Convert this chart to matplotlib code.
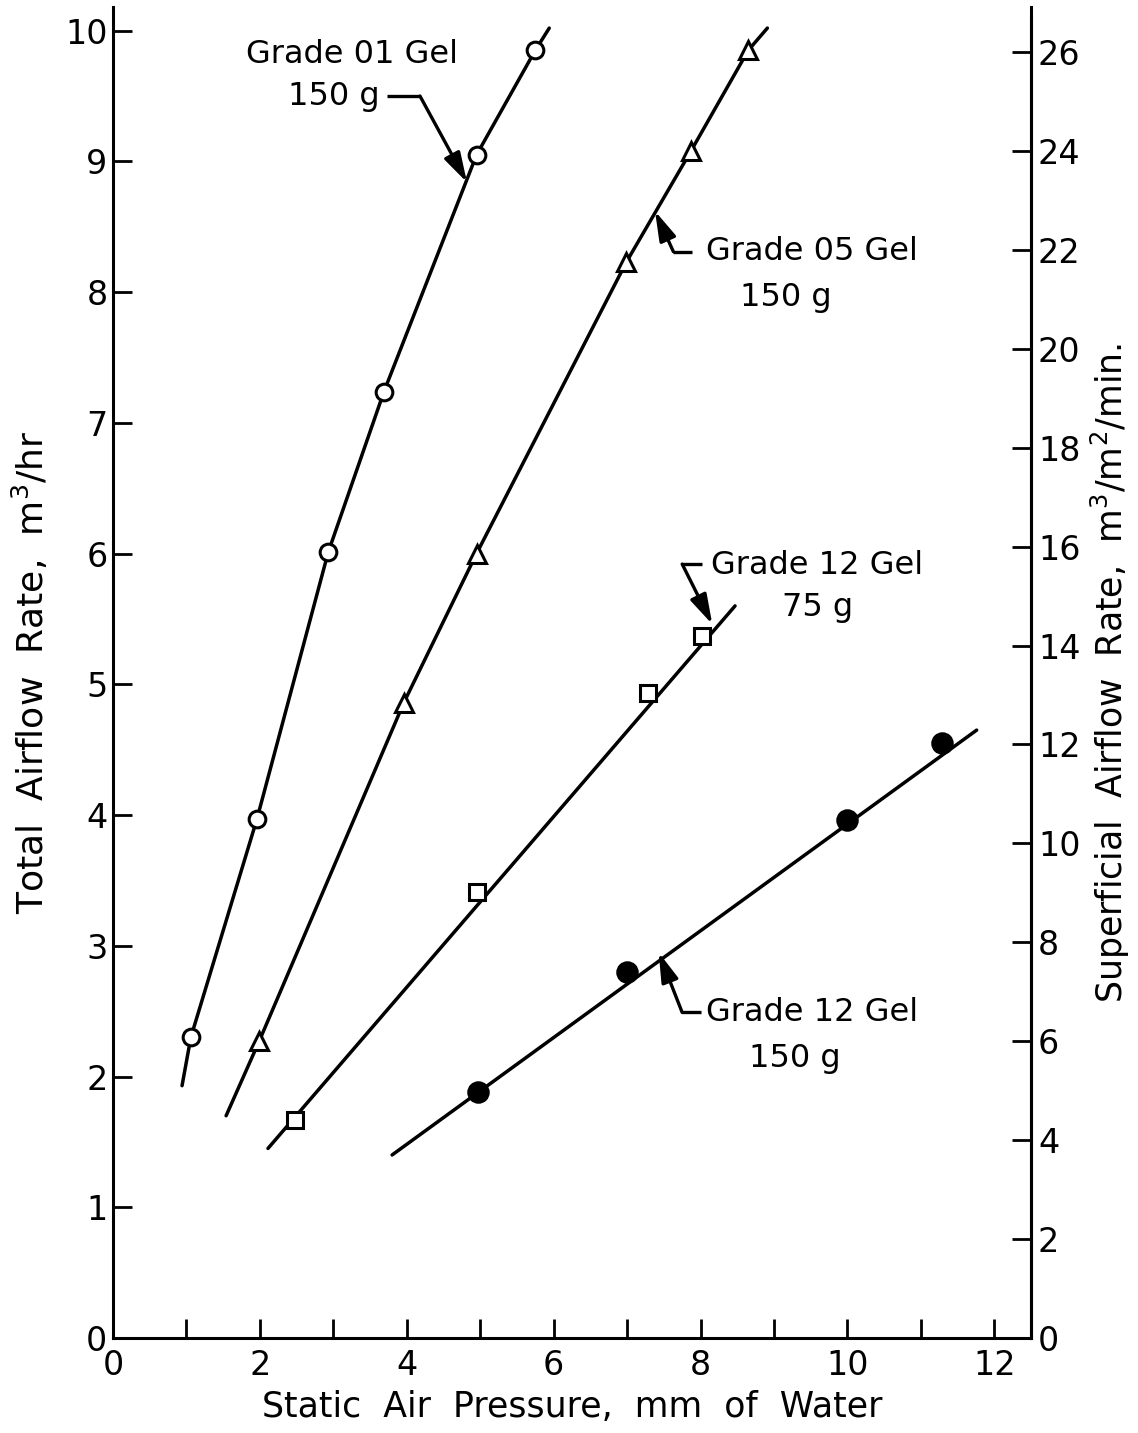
import matplotlib
matplotlib.use("Agg")
import matplotlib.pyplot as plt
import numpy as np

plt.rcParams['font.family'] = ['DejaVu Sans']
plt.rcParams['mathtext.default'] = 'regular'

# measured points (static pressure mm water, total airflow m3/hr)
g01_x = [1.06, 1.96, 2.93, 3.69, 4.95, 5.75]
g01_y = [2.30, 3.97, 6.01, 7.24, 9.05, 9.85]
g05_x = [1.99, 3.96, 4.95, 6.99, 7.87, 8.65]
g05_y = [2.27, 4.86, 6.00, 8.23, 9.08, 9.85]
g12a_x = [2.48, 4.96, 7.29, 8.02]
g12a_y = [1.67, 3.41, 4.93, 5.37]
g12b_x = [4.97, 7.00, 9.99, 11.29]
g12b_y = [1.88, 2.80, 3.96, 4.55]

# drawn curves
c01_x = [0.94, 1.06, 1.96, 2.93, 3.69, 4.95, 5.75, 5.94]
c01_y = [1.93, 2.30, 3.97, 6.01, 7.24, 9.05, 9.85, 10.02]
c05_x = [1.54, 1.99, 3.96, 4.95, 6.99, 7.87, 8.65, 8.91]
c05_y = [1.70, 2.27, 4.86, 6.00, 8.23, 9.08, 9.85, 10.02]
c12a_x = [2.11, 8.47]
c12a_y = [1.45, 5.60]
c12b_x = [3.80, 11.76]
c12b_y = [1.40, 4.65]

# annotation labels: (text, x, y) and arrow paths
labels = [("Grade 01 Gel", 3.26, 9.82), ("150 g", 3.0, 9.50),
          ("Grade 05 Gel", 9.52, 8.31), ("150 g", 9.16, 7.96),
          ("Grade 12 Gel", 9.59, 5.91), ("75 g", 9.59, 5.59),
          ("Grade 12 Gel", 9.52, 2.49), ("150 g", 9.29, 2.14)]
arrows = [([3.73, 4.18, 4.82], [9.50, 9.50, 8.84]),
          ([7.89, 7.63, 7.38], [8.31, 8.31, 8.62]),
          ([8.02, 7.75, 8.16], [5.92, 5.92, 5.46]),
          ([8.00, 7.75, 7.43], [2.49, 2.49, 2.95])]

ratio = 2.643  # superficial / total
ytop = 10.18

fig = plt.figure(figsize=(11.38, 14.33), dpi=100)
ax = fig.add_axes([0.0993, 0.0663, 0.8067, 0.9287])

lw = 2.5
for cx, cy in [(c01_x, c01_y), (c05_x, c05_y), (c12a_x, c12a_y), (c12b_x, c12b_y)]:
    ax.plot(cx, cy, color='black', lw=lw, solid_capstyle='round', zorder=2)

mk = dict(color='black', ls='none', mec='black', mew=2.2, zorder=3)
ax.plot(g01_x, g01_y, marker='o', ms=12, mfc='white', **mk)
ax.plot(g05_x, g05_y, marker='^', ms=13, mfc='white', **mk)
ax.plot(g12a_x, g12a_y, marker='s', ms=12, mfc='white', **mk)
ax.plot(g12b_x, g12b_y, marker='o', ms=14, mfc='black', **mk)

for txt, x, y in labels:
    ax.text(x, y, txt, ha='center', va='center', fontsize=23)

for axx, ayy in arrows:
    ax.plot(axx[:2], ayy[:2], color='black', lw=2.4, solid_capstyle='butt')
    ax.annotate('', xy=(axx[2], ayy[2]), xytext=(axx[1], ayy[1]),
                arrowprops=dict(arrowstyle='-|>,head_length=1.2,head_width=0.35',
                                color='black', lw=2.4,
                                mutation_scale=15, shrinkA=0, shrinkB=0))

ax.set_xlim(0, 12.5)
ax.set_ylim(0, ytop)
ax.set_xticks(np.arange(0, 13, 1))
ax.set_xticklabels([str(i) if i % 2 == 0 else '' for i in range(13)])
ax.set_yticks(np.arange(0, 11, 1))
ax.spines['top'].set_visible(False)
for s in ['left', 'bottom', 'right']:
    ax.spines[s].set_linewidth(2.2)
ax.tick_params(direction='in', length=14, width=2, labelsize=24)
ax.tick_params(axis='x', pad=8)
ax.tick_params(axis='y', pad=4)
ax.set_xlabel('Static  Air  Pressure,  mm  of  Water', fontsize=25, labelpad=6)
ax.set_ylabel('Total  Airflow  Rate,  m$^3$/hr', fontsize=26, labelpad=10)

ax2 = ax.twinx()
ax2.set_ylim(0, ytop * ratio)
ax2.set_yticks(np.arange(0, 27, 2))
ax2.spines['top'].set_visible(False)
ax2.spines['right'].set_linewidth(2.2)
ax2.spines['right'].set_bounds(0, 10.1 * ratio)
ax2.tick_params(direction='in', length=14, width=2, labelsize=24, pad=5)
ax2.set_ylabel('Superficial  Airflow  Rate,  m$^3$/m$^2$/min.', fontsize=25,
               rotation=90, labelpad=6)

fig.savefig('out.png', dpi=100)
